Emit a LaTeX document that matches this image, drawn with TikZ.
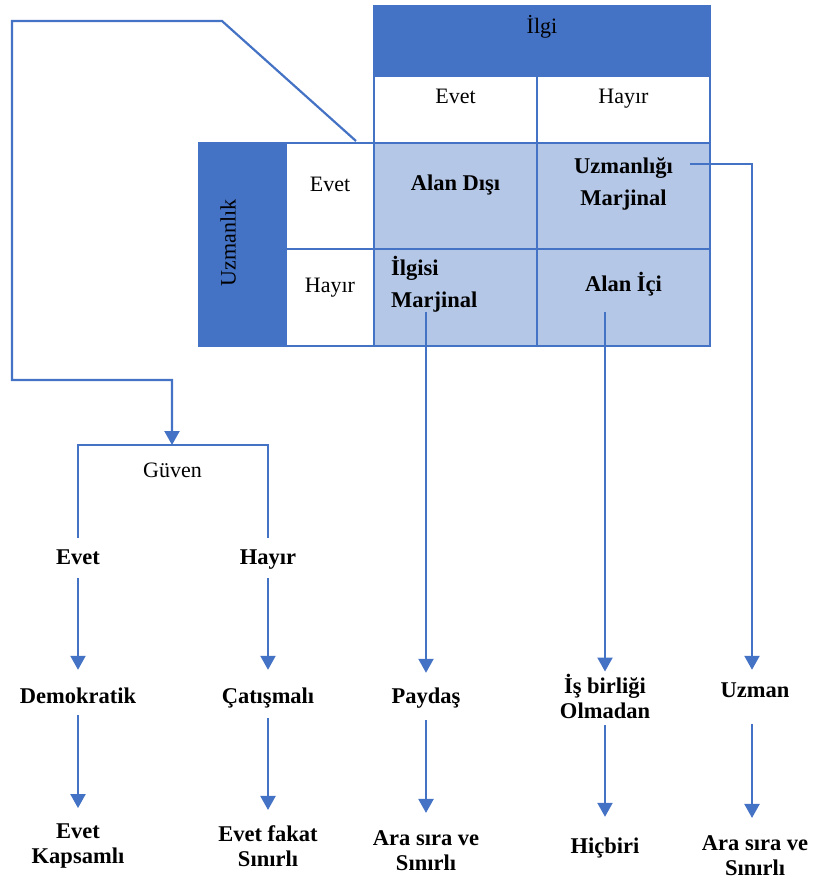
\documentclass[tikz,border=0pt]{standalone}
\usepackage{fontspec}
\setmainfont{Liberation Serif}
\usetikzlibrary{arrows.meta}
\definecolor{koyu}{HTML}{4472C4}
\definecolor{acik}{HTML}{B4C7E7}

\begin{document}
\begin{tikzpicture}[x=1pt, y=-1pt, >={Triangle[width=15pt,length=14pt]},
  font=\fontsize{22}{25}\selectfont,
  cizgi/.style={draw=koyu, line width=2.2pt},
  tablo/.style={draw=koyu, line width=2.6pt},
  yazi/.style={inner sep=0pt, anchor=base},
  kalin/.style={yazi, font=\fontsize{22.5}{25}\selectfont\bfseries},
  tek/.style={kalin, text height=15pt, text depth=5pt},
  iki/.style={kalin, align=center},
  ikit/.style={iki, font=\fontsize{22.5}{32}\selectfont\bfseries},
  ok/.style={cizgi, ->}]
\useasboundingbox (0,0) rectangle (817,880);

% Tablo
\fill[koyu] (374,6) rectangle (710,76);
\fill[koyu] (199.5,143) rectangle (286,346);
\fill[acik] (374,143) rectangle (710,346);
\draw[tablo] (374,6) rectangle (710,346);
\draw[tablo] (199.5,143) rectangle (374,346);
\draw[tablo] (286,143) -- (286,346);
\draw[tablo] (374,76) -- (710,76);
\draw[tablo] (537,76) -- (537,346);
\draw[tablo] (374,143) -- (710,143);
\draw[tablo] (286,249) -- (710,249);

\node[yazi] (ilgi) at (542,34) {İlgi};
\node[yazi] (ilgievet) at (455.5,103) {Evet};
\node[yazi] (ilgihayir) at (623.5,103) {Hayır};
\node[yazi, rotate=90] (uzmanlik) at (235.5,243) {Uzmanlık};
\node[yazi] (uzevet) at (330,191) {Evet};
\node[yazi] (uzhayir) at (330,292) {Hayır};
\node[tek] (alandisi) at (455.5,190) {Alan Dışı};
\node[ikit] (uzmanligi) at (623.5,205) {Uzmanlığı\\Marjinal};
\node[ikit, align=left, anchor=base west] (ilgisi) at (391,307) {İlgisi\\Marjinal};
\node[tek] (alanici) at (623.5,291) {Alan İçi};

% Güven
\coordinate (kose) at (356,141);
\coordinate (gtop) at (172,445);
\coordinate (uzcikis) at (690,164);
\node[yazi] (guven) at (172.5,477) {Güven};
\node[tek] (evet) at (78,564) {Evet};
\node[tek] (hayir) at (268,564) {Hayır};

\node[tek] (demokratik) at (78,703) {Demokratik};
\node[tek] (catismali) at (268,703) {Çatışmalı};
\node[tek] (paydas) at (426,703) {Paydaş};
\node[iki] (isbirligi) at (605,718) {İş birliği\\Olmadan};
\node[tek] (uzman) at (755,697) {Uzman};

\node[iki] (kapsamli) at (78,863) {Evet\\Kapsamlı};
\node[iki] (sinirli) at (268,866) {Evet fakat\\Sınırlı};
\node[iki] (arasira) at (426,870) {Ara sıra ve\\Sınırlı};
\node[tek] (hicbiri) at (605,853) {Hiçbiri};
\node[iki] (arasira2) at (755,875) {Ara sıra ve\\Sınırlı};

% Bağlantılar
\draw[ok] (kose) -- (222,21) -- (12,21) -- (12,380) -| (gtop);
\draw[cizgi, shorten <=11pt, shorten >=11pt] (evet.north) |- (gtop) -| (hayir.north);
\draw[ok, shorten <=9pt, shorten >=18pt] (evet.south) -- (demokratik.north);
\draw[ok, shorten <=9pt, shorten >=18pt] (hayir.south) -- (catismali.north);
\draw[ok, shorten >=15pt] (ilgisi.south -| paydas.north) -- (paydas.north);
\draw[ok, shorten <=16pt, shorten >=2pt] (alanici.south -| isbirligi.north) -- (isbirligi.north);
\draw[ok, shorten >=12pt] (uzcikis) -| ([xshift=-3pt]uzman.north);

\draw[ok, shorten <=7pt, shorten >=15pt] (demokratik.south) -- (kapsamli.north);
\draw[ok, shorten <=10pt, shorten >=15pt] (catismali.south) -- (sinirli.north);
\draw[ok, shorten <=12pt, shorten >=17pt] (paydas.south) -- (arasira.north);
\draw[ok, shorten <=7pt, shorten >=21pt] (isbirligi.south) -- (hicbiri.north);
\draw[ok, shorten <=22pt, shorten >=17pt] ([xshift=-3pt]uzman.south) -- ([xshift=-3pt]arasira2.north);
\end{tikzpicture}
\end{document}
